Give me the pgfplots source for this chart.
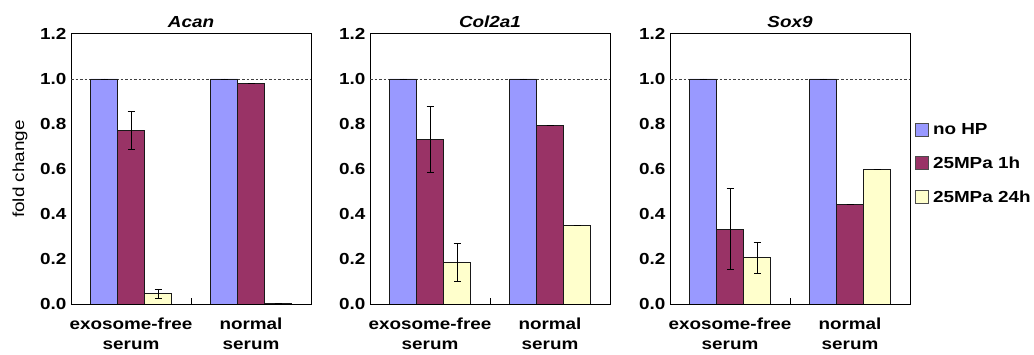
\documentclass[border=0pt]{standalone}
\usepackage{pgfplots}
\pgfplotsset{compat=1.18}
\usepackage{fontspec}
\setmainfont{Liberation Sans}[FakeStretch=1.18]
\definecolor{cblue}{HTML}{9999FF}
\definecolor{cred}{HTML}{993366}
\definecolor{cyel}{HTML}{FFFFCC}
\newcommand{\tf}{\fontsize{16bp}{20.5bp}\selectfont\bfseries}
\pgfplotsset{
  panel/.style={
    scale only axis, width=240bp, height=270bp,
    ymin=0, ymax=1.2, xmin=-0.5, xmax=1.5,
    axis line style={line width=1bp, black},
    ybar, bar width=0.225,
    ytick={0,0.2,0.4,0.6,0.8,1.0,1.2},
    ytick style={draw=none},
    yticklabel style={font=\tf, xshift=-1bp, /pgf/number format/.cd, fixed, fixed zerofill, precision=1, assume math mode=true},
    xtick={0.5}, xticklabels={},
    xtick style={black, line width=0.8bp},
    major tick length=6bp, xtick pos=bottom, xtick align=inside,
    extra x ticks={0,1},
    extra x tick labels={{exosome-free\\serum},{normal\\serum}},
    extra x tick style={major tick length=0pt, tick label style={align=center, font=\tf, yshift=-10bp}},
    title style={font=\fontsize{16bp}{19bp}\selectfont\bfseries\itshape, yshift=-3bp},
    every axis plot/.append style={draw=black!90, line width=0.8bp,
      error bars/y dir=both, error bars/y explicit,
      error bars/error mark options={rotate=90, mark size=3.5bp, line width=0.8bp, black},
      error bars/error bar style={line width=0.8bp, black}},
  },
  b1/.style={fill=cblue, bar shift=-0.225},
  b2/.style={fill=cred, bar shift=0},
  b3/.style={fill=cyel, bar shift=0.225},
}
\begin{document}
\begin{tikzpicture}
\path (0,0) rectangle (1034bp,355bp);
% Acan
\begin{axis}[panel, at={(71bp,51bp)}, anchor=south west, title={Acan},
  ylabel={fold change}, ylabel style={font=\fontsize{16bp}{19bp}\selectfont, yshift=6bp}]
\draw[dashed, black!75, line width=0.6bp, dash pattern=on 2.5bp off 2bp] (axis cs:-0.5,1) -- (axis cs:1.5,1);
\addplot[b1] coordinates {(0,1) +- (0,0) (1,1) +- (0,0)};
\addplot[b2] coordinates {(0,0.77) +- (0,0.085) (1,0.98) +- (0,0)};
\addplot[b3] coordinates {(0,0.045) +- (0,0.02) (1,0.003) +- (0,0)};
\end{axis}
% Col2a1
\begin{axis}[panel, at={(370bp,51bp)}, anchor=south west, title={Col2a1}]
\draw[dashed, black!75, line width=0.6bp, dash pattern=on 2.5bp off 2bp] (axis cs:-0.5,1) -- (axis cs:1.5,1);
\addplot[b1] coordinates {(0,1) +- (0,0) (1,1) +- (0,0)};
\addplot[b2] coordinates {(0,0.732) +- (0,0.147) (1,0.795) +- (0,0)};
\addplot[b3] coordinates {(0,0.185) +- (0,0.083) (1,0.348) +- (0,0)};
\end{axis}
% Sox9
\begin{axis}[panel, at={(670bp,51bp)}, anchor=south west, title={Sox9},
  legend style={at={(1.0,0.52)}, anchor=west, xshift=5bp, draw=none, fill=none, font=\tf,
    row sep=17bp, inner xsep=0bp, nodes={inner xsep=2bp}},
  legend cell align=left,
  legend image code/.code={\draw[#1, draw=black!70, line width=0.8bp] (0bp,-6.5bp) rectangle (13bp,6.5bp); \path (15bp,0bp);}]
\draw[dashed, black!75, line width=0.6bp, dash pattern=on 2.5bp off 2bp] (axis cs:-0.5,1) -- (axis cs:1.5,1);
\addplot[b1] coordinates {(0,1) +- (0,0) (1,1) +- (0,0)};
\addplot[b2] coordinates {(0,0.332) +- (0,0.18) (1,0.441) +- (0,0)};
\addplot[b3] coordinates {(0,0.205) +- (0,0.07) (1,0.599) +- (0,0)};
\legend{no HP, 25MPa 1h, 25MPa 24h}
\end{axis}
\end{tikzpicture}
\end{document}
